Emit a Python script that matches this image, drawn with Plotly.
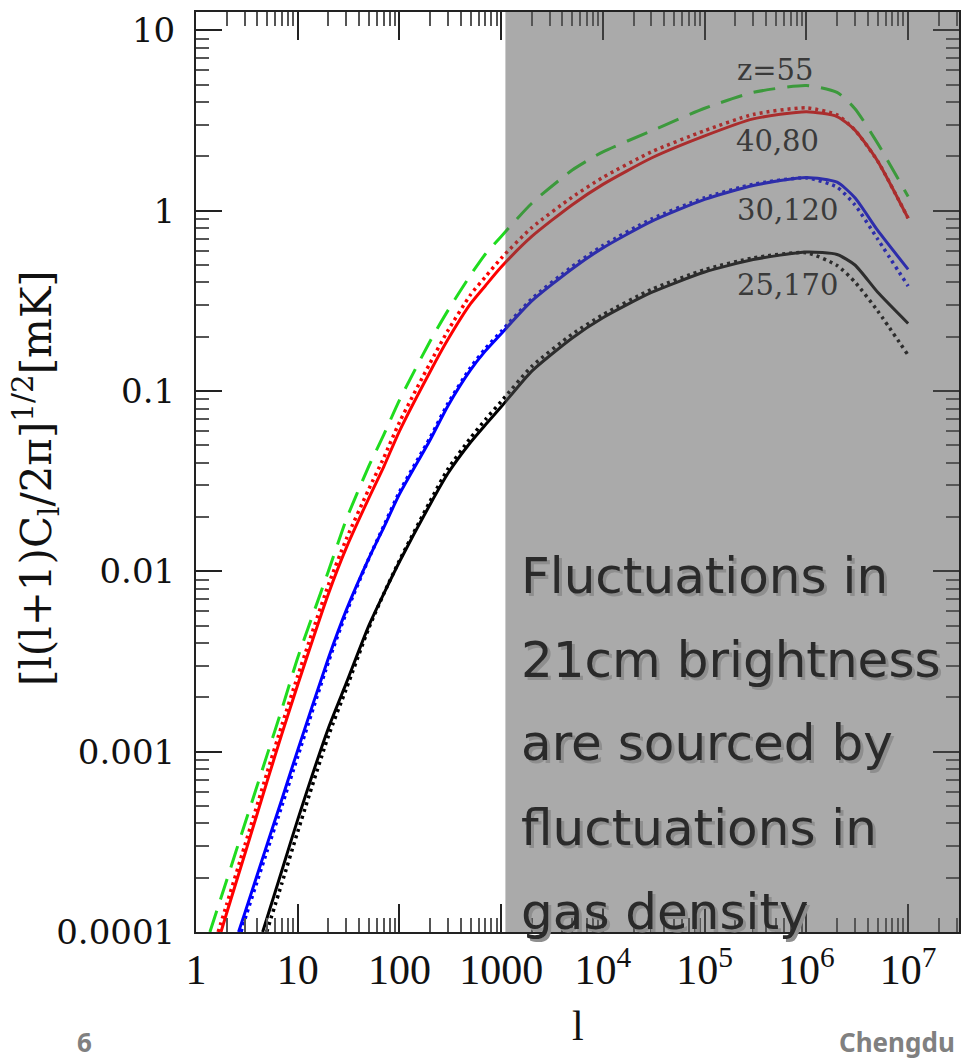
import plotly.graph_objects as go

# ---------------- data ----------------
green_l = [1.37, 2, 3, 5, 7, 10, 20, 30, 50, 70, 100, 200, 300, 500, 700, 1000, 2000, 5000,
           1e4, 3e4, 1e5, 3e5, 1e6, 2e6, 3e6, 5e6, 1e7]
green_T = [1.0e-4, 1.93e-4, 3.93e-4, 9.6e-4, 1.73e-3, 3.32e-3, 0.0100, 0.0194, 0.0383, 0.0571,
           0.089, 0.189, 0.28, 0.44, 0.575, 0.72, 1.10, 1.68, 2.12, 2.77, 3.70, 4.53, 4.95,
           4.53, 3.68, 2.37, 1.20]

red_l = [1.76, 2, 3, 5, 7, 10, 20, 30, 50, 70, 100, 200, 300, 500, 700, 1000, 2000, 5000,
         1e4, 3e4, 1e5, 3e5, 1e6, 2e6, 3e6, 5e6, 1e7]
red_T = [1.0e-4, 1.27e-4, 2.67e-4, 6.84e-4, 1.26e-3, 2.35e-3, 7.5e-3, 0.0135, 0.0255, 0.038,
         0.060, 0.128, 0.1935, 0.305, 0.384, 0.487, 0.72, 1.08, 1.40, 1.96, 2.60, 3.23, 3.54,
         3.33, 2.80, 1.89, 0.908]

red_dot_l = [1.65, 2, 3, 5, 7, 10, 20, 30, 50, 70, 100, 200, 300, 500, 700, 1000, 2000, 5000,
             1e4, 3e4, 1e5, 3e5, 1e6, 2e6, 3e6, 5e6, 1e7]
red_dot_T = [1.0e-4, 1.42e-4, 2.99e-4, 7.66e-4, 1.41e-3, 2.63e-3, 8.4e-3, 0.0151, 0.0286, 0.0426,
             0.0672, 0.143, 0.2167, 0.342, 0.430, 0.545, 0.806, 1.19, 1.53, 2.12, 2.78, 3.42,
             3.72, 3.40, 2.80, 1.89, 0.908]

blue_l = [2.62, 3, 5, 7, 10, 20, 30, 50, 70, 100, 200, 300, 500, 700, 1000, 2000, 5000,
          1e4, 3e4, 1e5, 3e5, 1e6, 2e6, 3e6, 5e6, 1e7]
blue_T = [1.0e-4, 1.26e-4, 3.06e-4, 5.47e-4, 1.02e-3, 3.3e-3, 6.1e-3, 0.0118, 0.0175, 0.0268,
          0.0535, 0.0829, 0.131, 0.167, 0.208, 0.316, 0.477, 0.622, 0.873, 1.156, 1.38, 1.53,
          1.44, 1.18, 0.78, 0.473]

blue_dot_l = [2.77, 3, 5, 7, 10, 20, 30, 50, 70, 100, 200, 300, 500, 700, 1000, 2000, 5000,
              1e4, 3e4, 1e5, 3e5, 1e6, 2e6, 3e6, 5e6, 1e7]
blue_dot_T = [1.0e-4, 1.16e-4, 2.82e-4, 5.03e-4, 9.4e-4, 3.14e-3, 5.9e-3, 0.0118, 0.0178, 0.0276,
              0.0551, 0.0854, 0.135, 0.172, 0.214, 0.325, 0.491, 0.641, 0.899, 1.18, 1.40, 1.52,
              1.35, 1.077, 0.698, 0.382]

black_l = [4.52, 5, 7, 10, 20, 30, 50, 70, 100, 200, 300, 500, 700, 1000, 2000, 5000,
           1e4, 3e4, 1e5, 3e5, 1e6, 2e6, 3e6, 5e6, 1e7]
black_T = [1.0e-4, 1.2e-4, 2.2e-4, 4.2e-4, 1.35e-3, 2.4e-3, 5.0e-3, 7.5e-3, 0.0113, 0.0235,
           0.035, 0.052, 0.065, 0.0817, 0.129, 0.197, 0.255, 0.352, 0.457, 0.536, 0.59,
           0.572, 0.50, 0.354, 0.237]

black_dot_l = [4.95, 7, 10, 20, 30, 50, 70, 100, 200, 300, 500, 700, 1000, 2000, 5000,
               1e4, 3e4, 1e5, 3e5, 1e6, 2e6, 3e6, 5e6, 1e7]
black_dot_T = [1.0e-4, 1.87e-4, 3.6e-4, 1.22e-3, 2.23e-3, 4.85e-3, 7.5e-3, 0.0115, 0.0245,
               0.037, 0.055, 0.0695, 0.0875, 0.137, 0.207, 0.265, 0.366, 0.471, 0.547,
               0.585, 0.497, 0.402, 0.279, 0.158]

x_tickvals = [1, 10, 100, 1000, 1e4, 1e5, 1e6, 1e7]
x_ticktext = ["1", "10", "100", "1000", "10<sup>4</sup>", "10<sup>5</sup>", "10<sup>6</sup>", "10<sup>7</sup>"]
y_tickvals = [1e-4, 1e-3, 1e-2, 1e-1, 1, 10]
y_ticktext = ["0.0001", "0.001", "0.01", "0.1", "1", "10"]

shade_start = 1100  # start of the shaded l-range

curve_labels = ["z=55", "40,80", "30,120", "25,170"]
text_lines = ["Fluctuations in", "21cm brightness", "are sourced by", "fluctuations in", "gas density"]

# ---------------- figure ----------------
W, H = 961, 1060
ML, MR, MT, MB = 196, 2, 12, 128
PW, PH = W - ML - MR, H - MT - MB


def px_to_paper(px, py):
    return (px - ML) / PW, (H - MB - py) / PH


fig = go.Figure()

series = [
    (green_l, green_T, "#1fdc1f", "22px,12px", 3),
    (red_dot_l, red_dot_T, "#ff0000", "3px,4px", 3.5),
    (red_l, red_T, "#ff0000", "solid", 3),
    (blue_dot_l, blue_dot_T, "#0000ff", "3px,4px", 3.5),
    (blue_l, blue_T, "#0000ff", "solid", 3),
    (black_dot_l, black_dot_T, "#000000", "3px,4px", 3.5),
    (black_l, black_T, "#000000", "solid", 3),
]
for xs, ys, col, dash, w in series:
    fig.add_trace(go.Scatter(x=xs, y=ys, mode="lines",
                             line=dict(color=col, dash=dash, width=w, shape="spline", smoothing=0.6),
                             showlegend=False, hoverinfo="skip"))

# translucent grey overlay over the high-l range
fig.add_shape(type="rect", xref="x", yref="paper", x0=shade_start, x1=10 ** 7.5, y0=0, y1=1,
              fillcolor="rgba(88,88,88,0.51)", line=dict(width=0), layer="above")

axis_common = dict(showline=True, linecolor="#222222", linewidth=2, mirror="allticks",
                   ticks="inside", tickcolor="#222222", tickwidth=1.6, showgrid=False,
                   zeroline=False)

fig.update_xaxes(type="log", range=[0, 7.5], tickvals=x_tickvals, ticktext=x_ticktext,
                 ticklen=28, tickfont=dict(family="Liberation Serif", size=42, color="#111111"),
                 ticklabelstandoff=0,
                 minor=dict(ticks="inside", ticklen=14, tickwidth=1.5, tickcolor="#555555",
                            dtick="D1", showgrid=False),
                 **axis_common)
fig.update_yaxes(type="log", range=[-4, 1.102], tickvals=y_tickvals, ticktext=y_ticktext,
                 ticklen=26, tickfont=dict(family="DejaVu Serif", size=34, color="#111111"),
                 ticklabelstandoff=12,
                 minor=dict(ticks="inside", ticklen=13, tickwidth=1.5, tickcolor="#555555",
                            dtick="D1", showgrid=False),
                 **axis_common)

# curve labels
label_pos = [(775, 70), (777, 141), (787, 210), (787, 285)]
for txt, (px, py) in zip(curve_labels, label_pos):
    x, y = px_to_paper(px, py)
    fig.add_annotation(xref="paper", yref="paper", x=x, y=y, text=txt, showarrow=False,
                       xanchor="center", yanchor="middle",
                       font=dict(family="DejaVu Serif", size=29, color="#3a3a3a"))

# big overlay text with drop shadow
line_centers = [576, 660, 743, 828, 912]
for txt, py in zip(text_lines, line_centers):
    x, y = px_to_paper(519, py)
    fig.add_annotation(xref="paper", yref="paper", x=x, y=y, text=txt, showarrow=False,
                       xanchor="left", yanchor="middle", xshift=3, yshift=-3,
                       font=dict(family="DejaVu Sans", size=50, color="#8e8e8e"))
    fig.add_annotation(xref="paper", yref="paper", x=x, y=y, text=txt, showarrow=False,
                       xanchor="left", yanchor="middle",
                       font=dict(family="DejaVu Sans", size=50, color="#2a2a2a"))

# axis titles
x, y = px_to_paper(36, 478)
fig.add_annotation(xref="paper", yref="paper", x=x, y=y, textangle=-90,
                   text="[l(l+1)C<sub>l</sub>/2π]<sup>1/2</sup>[mK]", showarrow=False,
                   xanchor="center", yanchor="middle",
                   font=dict(family="DejaVu Serif", size=42, color="#111111"))
x, y = px_to_paper(578, 1026)
fig.add_annotation(xref="paper", yref="paper", x=x, y=y, text="l", showarrow=False,
                   xanchor="center", yanchor="middle",
                   font=dict(family="Liberation Serif", size=42, color="#111111"))

# slide footer
x, y = px_to_paper(85, 1042)
fig.add_annotation(xref="paper", yref="paper", x=x, y=y, text="<b>6</b>", showarrow=False,
                   xanchor="center", yanchor="middle",
                   font=dict(family="Noto Sans", size=26, color="#808080"))
x, y = px_to_paper(957, 1042)
fig.add_annotation(xref="paper", yref="paper", x=x, y=y, text="<b>Chengdu</b>", showarrow=False,
                   xanchor="right", yanchor="middle",
                   font=dict(family="Noto Sans", size=26, color="#808080"))

fig.update_layout(width=W, height=H, margin=dict(l=ML, r=MR, t=MT, b=MB, autoexpand=False),
                  plot_bgcolor="white", paper_bgcolor="white", showlegend=False)

fig.write_html("out.html")
